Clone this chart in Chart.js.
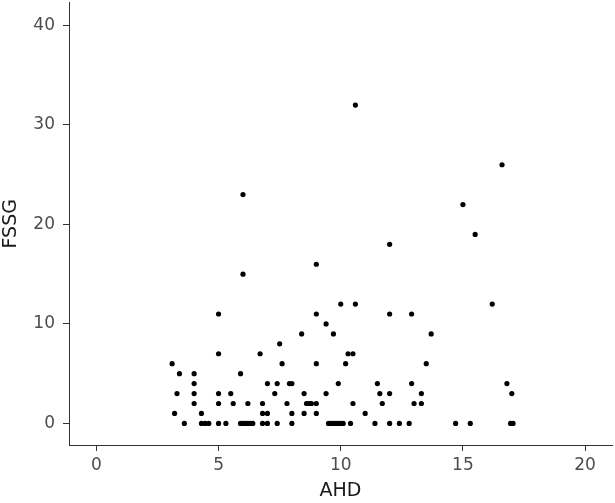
<!DOCTYPE html>
<html>
<head>
<meta charset="utf-8">
<script src="https://cdn.jsdelivr.net/npm/chart.js@4/dist/chart.umd.min.js"></script>
<style>
  body { margin: 0; background: #fff; }
  #wrap { width: 615px; height: 503px; }
</style>
</head>
<body>
<div id="wrap"><canvas id="scatterChart" width="615" height="503"></canvas></div>
<script>
// AHD (x) and FSSG (y) values, one pair per point, grouped by FSSG row
const ahd = [
    10.6,
    16.6,
    6.0,
    15.0,
    15.5,
    12.0,
    9.0,
    6.0,
    10.0, 10.6, 16.2,
    5.0, 9.0, 12.0, 12.9,
    9.4,
    8.4, 9.7, 13.7,
    7.5,
    5.0, 6.7, 10.3, 10.5,
    3.1, 7.6, 9.0, 10.2, 13.5,
    3.4, 4.0, 5.9,
    4.0, 7.0, 7.4, 7.9, 8.0, 9.9, 11.5, 12.9, 16.8,
    3.3, 4.0, 5.0, 5.5, 7.3, 8.5, 9.4, 11.6, 12.0, 13.3, 17.0,
    4.0, 5.0, 5.6, 6.2, 6.8, 7.8, 8.6, 8.7, 8.8, 9.0, 10.5, 11.7, 13.0, 13.3,
    3.2, 4.3, 6.8, 7.0, 8.0, 8.5, 9.0, 11.0,
    3.6, 4.3, 4.45, 4.6, 5.0, 5.3, 5.9, 6.0, 6.1, 6.2, 6.3, 6.4, 6.8, 7.0, 7.4, 8.0,
    9.5, 9.6, 9.7, 9.8, 9.9, 10.0, 10.1, 10.4, 11.4, 12.0, 12.4, 12.8, 14.7, 15.3, 16.95, 17.05
];
const fssg = [
    32,
    26,
    23,
    22,
    19,
    18,
    16,
    15,
    12, 12, 12,
    11, 11, 11, 11,
    10,
    9, 9, 9,
    8,
    7, 7, 7, 7,
    6, 6, 6, 6, 6,
    5, 5, 5,
    4, 4, 4, 4, 4, 4, 4, 4, 4,
    3, 3, 3, 3, 3, 3, 3, 3, 3, 3, 3,
    2, 2, 2, 2, 2, 2, 2, 2, 2, 2, 2, 2, 2, 2,
    1, 1, 1, 1, 1, 1, 1, 1,
    0, 0, 0, 0, 0, 0, 0, 0, 0, 0, 0, 0, 0, 0, 0, 0,
    0, 0, 0, 0, 0, 0, 0, 0, 0, 0, 0, 0, 0, 0, 0, 0
];
const xTicks = [0, 5, 10, 15, 20];
const yTicks = [0, 10, 20, 30, 40];

const points = ahd.map((x, i) => ({ x: x, y: fssg[i] }));

const axisColor = '#333333';
const tickFont = { family: 'DejaVu Sans', size: 17 };
const titleFont = { family: 'DejaVu Sans', size: 19 };

new Chart(document.getElementById('scatterChart'), {
    type: 'scatter',
    data: {
        datasets: [{
            data: points,
            backgroundColor: '#000',
            borderWidth: 0,
            pointRadius: 2.6,
            pointHoverRadius: 2.6
        }]
    },
    options: {
        responsive: false,
        animation: false,
        layout: { padding: { top: 0, right: 3, left: 0, bottom: 0 } },
        plugins: {
            legend: { display: false },
            tooltip: { enabled: false }
        },
        scales: {
            x: {
                type: 'linear',
                min: -1.12,
                max: 21.1,
                afterBuildTicks: axis => { axis.ticks = xTicks.map(v => ({ value: v })); },
                afterFit: axis => { axis.height = 58; axis.paddingLeft = 0; axis.paddingRight = 0; },
                grid: { drawOnChartArea: false, tickLength: 6, color: axisColor },
                border: { color: axisColor, width: 1 },
                ticks: { font: tickFont, color: '#4d4d4d', padding: 4, maxRotation: 0 },
                title: { display: true, text: 'AHD', font: titleFont, color: '#1a1a1a', padding: { top: 0, bottom: 1 } }
            },
            y: {
                type: 'linear',
                min: -2.17,
                max: 42.3,
                afterBuildTicks: axis => { axis.ticks = yTicks.map(v => ({ value: v })); },
                afterFit: axis => { axis.width = 69; axis.paddingTop = 0; axis.paddingBottom = 0; },
                grid: { drawOnChartArea: false, tickLength: 6, color: axisColor },
                border: { color: axisColor, width: 1 },
                ticks: { font: tickFont, color: '#4d4d4d', padding: 8 },
                title: { display: true, text: 'FSSG', font: titleFont, color: '#1a1a1a', padding: { top: 0, bottom: 2 } }
            }
        }
    }
});
</script>
</body>
</html>
